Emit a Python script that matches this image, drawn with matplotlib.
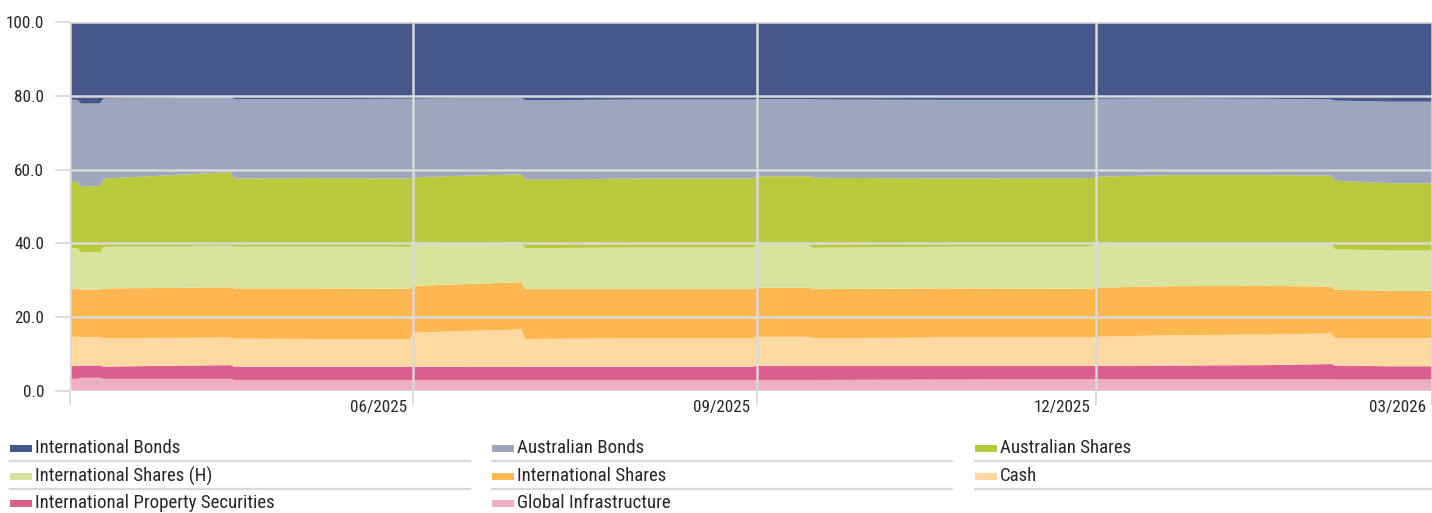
import matplotlib
matplotlib.use("Agg")
import matplotlib.pyplot as plt
from matplotlib import font_manager
from matplotlib.transforms import ScaledTranslation
from matplotlib.patches import Rectangle
from matplotlib.lines import Line2D
import datetime as dt

# ---------------- font selection (condensed if available) ----------------
_fonts = font_manager.fontManager.ttflist
_names = {f.name for f in _fonts}
TICK_SIZE = 12.3
LEG_SIZE = 13.6
if 'Roboto Condensed' in _names:
    plt.rcParams['font.family'] = ['Roboto Condensed', 'DejaVu Sans']
elif 'Liberation Sans Narrow' in _names:
    plt.rcParams['font.family'] = ['Liberation Sans Narrow', 'DejaVu Sans']
else:
    plt.rcParams['font.family'] = ['Liberation Sans', 'DejaVu Sans']
    TICK_SIZE = 12
    LEG_SIZE = 12.5

# ---------------- data ----------------
dates = ["2025-03-01", "2025-03-03", "2025-03-04", "2025-03-09", "2025-03-10",
         "2025-03-24", "2025-04-13", "2025-04-14", "2025-05-05", "2025-05-31",
         "2025-06-01", "2025-06-16", "2025-06-30", "2025-07-01", "2025-08-01",
         "2025-08-31", "2025-09-01", "2025-09-15", "2025-09-16", "2025-10-20",
         "2025-11-30", "2025-12-01", "2025-12-20", "2026-01-15", "2026-02-02",
         "2026-02-03", "2026-02-18", "2026-03-01"]

global_infra = [3.3, 3.3, 3.6, 3.6, 3.3, 3.3, 3.3, 3.0, 3.0, 3.0, 3.0, 3.0, 3.0, 3.0,
                3.0, 3.0, 3.0, 3.0, 3.0, 3.1, 3.2, 3.2, 3.2, 3.2, 3.2, 3.1, 3.1, 3.1]
intl_property = [3.5, 3.5, 3.3, 3.3, 3.3, 3.5, 3.7, 3.6, 3.6, 3.6, 3.6, 3.5, 3.5, 3.6,
                 3.6, 3.6, 3.8, 3.8, 3.8, 3.7, 3.6, 3.6, 3.7, 3.8, 4.1, 3.8, 3.6, 3.6]
cash = [7.9, 7.9, 7.7, 7.7, 7.7, 7.6, 7.5, 7.6, 7.5, 7.5, 9.2, 9.8, 10.2, 7.5,
        7.7, 7.7, 7.9, 7.9, 7.5, 7.7, 7.7, 7.9, 8.2, 8.3, 8.3, 7.4, 7.6, 7.6]
intl_shares = [12.9, 12.9, 12.9, 12.9, 13.5, 13.5, 13.6, 13.6, 13.7, 13.6, 12.7, 12.7, 12.8, 13.5,
               13.3, 13.3, 13.3, 13.3, 13.3, 13.3, 13.2, 13.3, 13.3, 13.2, 12.7, 13.1, 12.9, 12.9]
intl_shares_h = [11.1, 11.1, 10.1, 10.1, 11.3, 11.3, 11.3, 11.3, 11.4, 11.4, 11.1, 11.0, 10.8, 11.1,
                 11.3, 11.3, 11.6, 11.6, 11.2, 11.3, 11.6, 11.7, 11.6, 11.5, 11.7, 11.0, 10.9, 10.9]
aus_shares = [18.0, 18.0, 17.9, 17.9, 18.5, 19.1, 19.9, 18.5, 18.5, 18.5, 18.3, 18.4, 18.4, 18.6,
              18.7, 18.7, 18.6, 18.6, 19.0, 18.5, 18.4, 18.4, 18.5, 18.5, 18.4, 18.6, 18.2, 18.2]
aus_bonds = [22.2, 22.2, 22.4, 22.4, 21.7, 21.2, 20.5, 21.5, 21.4, 21.6, 21.3, 21.0, 20.7, 21.5,
             21.4, 21.4, 20.9, 20.9, 21.2, 21.3, 21.2, 21.1, 20.8, 20.7, 20.6, 21.7, 22.1, 22.1]
intl_bonds = [21.1, 21.1, 22.1, 22.1, 20.7, 20.5, 20.2, 20.9, 20.9, 20.8, 20.8, 20.6, 20.6, 21.2,
              21.0, 21.0, 20.9, 20.9, 21.0, 21.1, 21.1, 20.8, 20.7, 20.8, 21.0, 21.3, 21.6, 21.6]

series_names = ["Global Infrastructure", "International Property Securities", "Cash",
                "International Shares", "International Shares (H)", "Australian Shares",
                "Australian Bonds", "International Bonds"]
series_colors = ["#EEAFC5", "#DB5F8E", "#FFD9A1", "#FFB74F", "#DAE39D", "#B8CA3B",
                 "#9EA6BF", "#465789"]

legend_order = ["International Bonds", "Australian Bonds", "Australian Shares",
                "International Shares (H)", "International Shares", "Cash",
                "International Property Securities", "Global Infrastructure"]

x_ticks = ["2025-03-01", "2025-06-01", "2025-09-01", "2025-12-01", "2026-03-01"]
x_tick_labels = ["", "06/2025", "09/2025", "12/2025", "03/2026"]
y_ticks = [0, 20, 40, 60, 80, 100]
y_tick_labels = ["0.0", "20.0", "40.0", "60.0", "80.0", "100.0"]

# ---------------- figure ----------------
W, H = 1432, 513
fig = plt.figure(figsize=(W / 100, H / 100), dpi=100)
ax = fig.add_axes([70 / W, 1 - 391 / H, (W - 70) / W, (391 - 22) / H])

x = [dt.datetime.strptime(d, "%Y-%m-%d") for d in dates]
ax.stackplot(x, global_infra, intl_property, cash, intl_shares, intl_shares_h,
             aus_shares, aus_bonds, intl_bonds, colors=series_colors,
             linewidth=0, zorder=1)

ax.set_xlim(dt.datetime(2025, 3, 1), dt.datetime(2026, 3, 1))
ax.set_ylim(0, 100)

grid_col = "#D9D9D9"
text_col = "#262626"
ax.set_xticks([dt.datetime.strptime(d, "%Y-%m-%d") for d in x_ticks])
ax.set_xticklabels(x_tick_labels)
ax.set_yticks(y_ticks)
ax.set_yticklabels(y_tick_labels)
ax.grid(True, color=grid_col, linewidth=1.8)
ax.set_axisbelow(False)
for s in ax.spines.values():
    s.set_visible(False)

ax.tick_params(axis='x', length=10, width=1.3, color=grid_col, labelsize=TICK_SIZE,
               labelcolor=text_col, pad=-3.6)
ax.tick_params(axis='y', length=11, width=1.3, color=grid_col, labelsize=TICK_SIZE,
               labelcolor=text_col, pad=7.5)
off = ScaledTranslation(-6 / 100, 0, fig.dpi_scale_trans)
for lab in ax.get_xticklabels():
    lab.set_ha('right')
    lab.set_transform(lab.get_transform() + off)

# ---------------- legend ----------------
col_x = [10, 492, 975]
col_end = [470, 952, 1432]
row_y = [448, 476, 503]
name_to_color = dict(zip(series_names, series_colors))
for i, name in enumerate(legend_order):
    r, c = divmod(i, 3)
    x0 = col_x[c]
    yc = row_y[r]
    fig.patches.append(Rectangle((x0 / W, 1 - (yc + 3.5) / H), 22 / W, 7 / H,
                                 transform=fig.transFigure, facecolor=name_to_color[name],
                                 edgecolor='none'))
    fig.text((x0 + 25) / W, 1 - yc / H, name, fontsize=LEG_SIZE, color=text_col,
             va='center', ha='left')
    ly = 1 - (yc + 13) / H
    fig.lines.append(Line2D([x0 / W, col_end[c] / W], [ly, ly], transform=fig.transFigure,
                            color=grid_col, linewidth=1.6))

fig.savefig("out.png", dpi=100)
